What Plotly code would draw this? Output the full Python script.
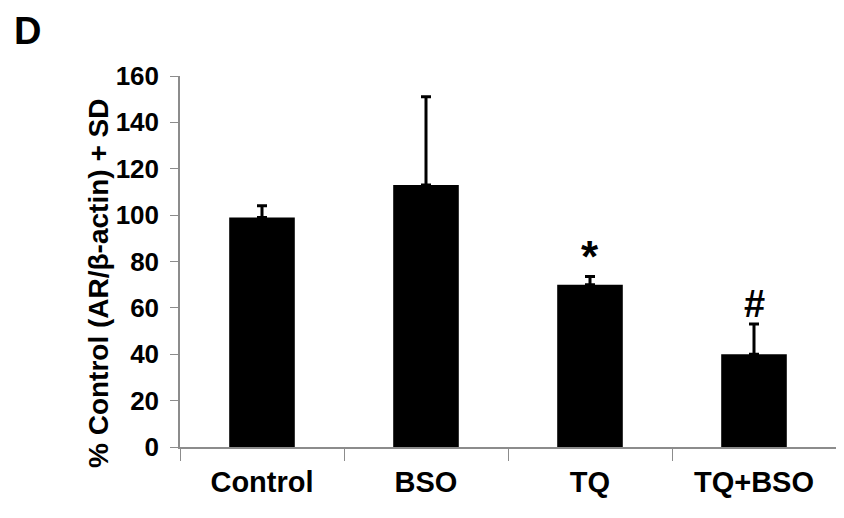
import plotly.graph_objects as go

categories = ["Control", "BSO", "TQ", "TQ+BSO"]
values = [99, 113, 70, 40]
sd = [5, 38, 3.5, 13]
marks = ["", "", "*", "#"]
mark_sizes = [0, 0, 44, 38]
y_ticks = [0, 20, 40, 60, 80, 100, 120, 140, 160]

FONT = "Liberation Sans, Arial, sans-serif"
AXIS_COLOR = "#8c8c8c"

# plot area in screen px (page has an 8px body offset)
L, R, T, B = 172, 16, 68, 79
PW = 844 - L - R
PH = 518 - T - B

fig = go.Figure()
fig.add_trace(go.Bar(
    x=categories, y=values,
    marker=dict(color="black", line=dict(width=0)),
    width=0.4,
    error_y=dict(type="data", array=sd, symmetric=False, arrayminus=[0]*4,
                 color="black", thickness=3, width=5),
))

for c, v, s, m, fs in zip(categories, values, sd, marks, mark_sizes):
    if m:
        fig.add_annotation(x=c, y=v + s + 8.5, text=m, showarrow=False,
                           xref="x", yref="y", yanchor="middle",
                           font=dict(family=FONT, size=fs, color="black", weight="bold"))

# panel letter (centre at screen y ~31)
fig.add_annotation(x=(12 - 8 - L) / PW, y=1 + (T - 23) / PH, xref="paper", yref="paper",
                   xanchor="left", yanchor="middle", text="D", showarrow=False,
                   font=dict(family=FONT, size=38, color="black", weight="bold"))

# y-axis title as rotated annotation
fig.add_annotation(x=(98 - 8 - L) / PW, y=1 - (284 - 8 - T) / PH, xref="paper", yref="paper",
                   xanchor="center", yanchor="middle", textangle=-90,
                   text="% Control (AR/β-actin) + SD", showarrow=False,
                   font=dict(family=FONT, size=28, color="black", weight="bold"))

fig.update_layout(
    width=844, height=518,
    margin=dict(l=L, r=R, t=T, b=B, autoexpand=False),
    paper_bgcolor="white", plot_bgcolor="white",
    showlegend=False,
    xaxis=dict(
        showline=True, linecolor=AXIS_COLOR, linewidth=1.5,
        ticks="outside", tickson="boundaries", ticklen=12, tickcolor=AXIS_COLOR,
        tickfont=dict(family=FONT, size=29, color="black", weight="bold"),
        ticklabelstandoff=8,
        showgrid=False, zeroline=False,
    ),
    yaxis=dict(
        range=[0, 160], tickvals=y_ticks,
        showline=True, linecolor=AXIS_COLOR, linewidth=1.5,
        ticks="outside", ticklen=8, tickcolor=AXIS_COLOR,
        tickfont=dict(family=FONT, size=26, color="black", weight="bold"),
        ticklabelstandoff=6,
        showgrid=False, zeroline=False,
    ),
)

fig.write_html("out.html")
